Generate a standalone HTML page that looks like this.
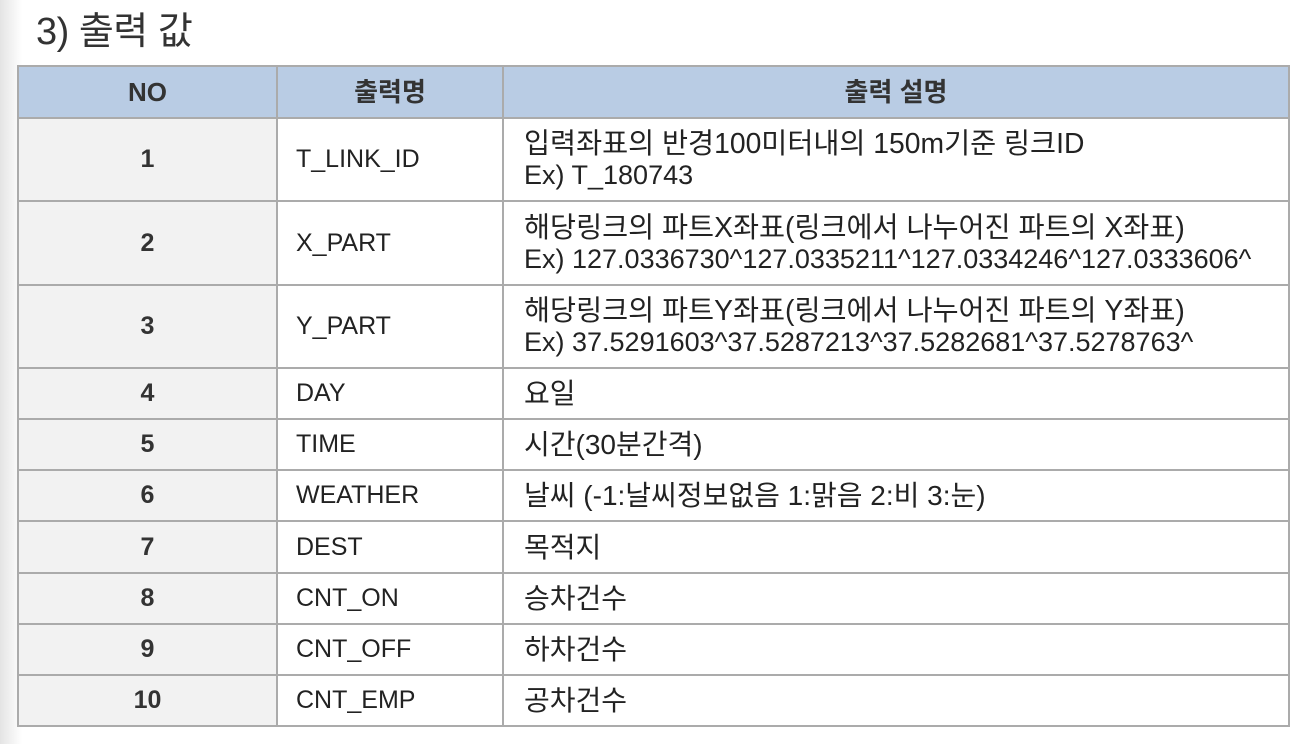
<!DOCTYPE html>
<html><head><meta charset="utf-8">
<style>
html,body{margin:0;padding:0;}
body{width:1306px;height:744px;background:#fff;position:relative;overflow:hidden;font-family:"Liberation Sans","Noto Sans CJK KR","NanumGothic",sans-serif;color:#222;}
.shade{position:absolute;left:0;top:0;width:22px;height:744px;background:linear-gradient(to right,#e4e4e4,#fff);}
h1{position:absolute;left:36px;top:0px;margin:0;font-size:38px;font-weight:normal;color:#333;letter-spacing:-0.5px;}
table{position:absolute;left:17px;top:65px;border-collapse:collapse;table-layout:fixed;width:1271px;}
td,th{border:2px solid #ababab;font-size:27px;padding:0;line-height:31px;white-space:nowrap;}
th{background:#b9cce4;font-weight:bold;color:#333;text-align:center;height:50px;font-size:26px;}
td.no{background:#f2f2f2;text-align:center;font-weight:bold;color:#333;font-size:25px;}
td.nm{padding-left:18px;font-size:25px;}
td.ds{padding-left:20px;font-size:28px;}
.k{font-size:28.3px;}
.e{font-size:27px;}
</style></head><body>
<div class="shade"></div>
<h1>3) 출력 값</h1>
<table>
<colgroup><col style="width:259px"><col style="width:226px"><col style="width:786px"></colgroup>
<tr><th>NO</th><th>출력명</th><th>출력 설명</th></tr>
<tr style="height:83px"><td class="no">1</td><td class="nm">T_LINK_ID</td><td class="ds"><span class="k">입력좌표의 반경100미터내의 150m기준 링크ID</span><br><span class="e">Ex) T_180743</span></td></tr>
<tr style="height:84px"><td class="no">2</td><td class="nm">X_PART</td><td class="ds"><span class="k">해당링크의 파트X좌표(링크에서 나누어진 파트의 X좌표)</span><br><span class="e">Ex) 127.0336730^127.0335211^127.0334246^127.0333606^</span></td></tr>
<tr style="height:83px"><td class="no">3</td><td class="nm">Y_PART</td><td class="ds"><span class="k">해당링크의 파트Y좌표(링크에서 나누어진 파트의 Y좌표)</span><br><span class="e">Ex) 37.5291603^37.5287213^37.5282681^37.5278763^</span></td></tr>
<tr style="height:51px"><td class="no">4</td><td class="nm">DAY</td><td class="ds">요일</td></tr>
<tr style="height:51px"><td class="no">5</td><td class="nm">TIME</td><td class="ds">시간(30분간격)</td></tr>
<tr style="height:51px"><td class="no">6</td><td class="nm">WEATHER</td><td class="ds">날씨 (-1:날씨정보없음 1:맑음 2:비 3:눈)</td></tr>
<tr style="height:52px"><td class="no">7</td><td class="nm">DEST</td><td class="ds">목적지</td></tr>
<tr style="height:51px"><td class="no">8</td><td class="nm">CNT_ON</td><td class="ds">승차건수</td></tr>
<tr style="height:51px"><td class="no">9</td><td class="nm">CNT_OFF</td><td class="ds">하차건수</td></tr>
<tr style="height:51px"><td class="no">10</td><td class="nm">CNT_EMP</td><td class="ds">공차건수</td></tr>
</table>
</body></html>
